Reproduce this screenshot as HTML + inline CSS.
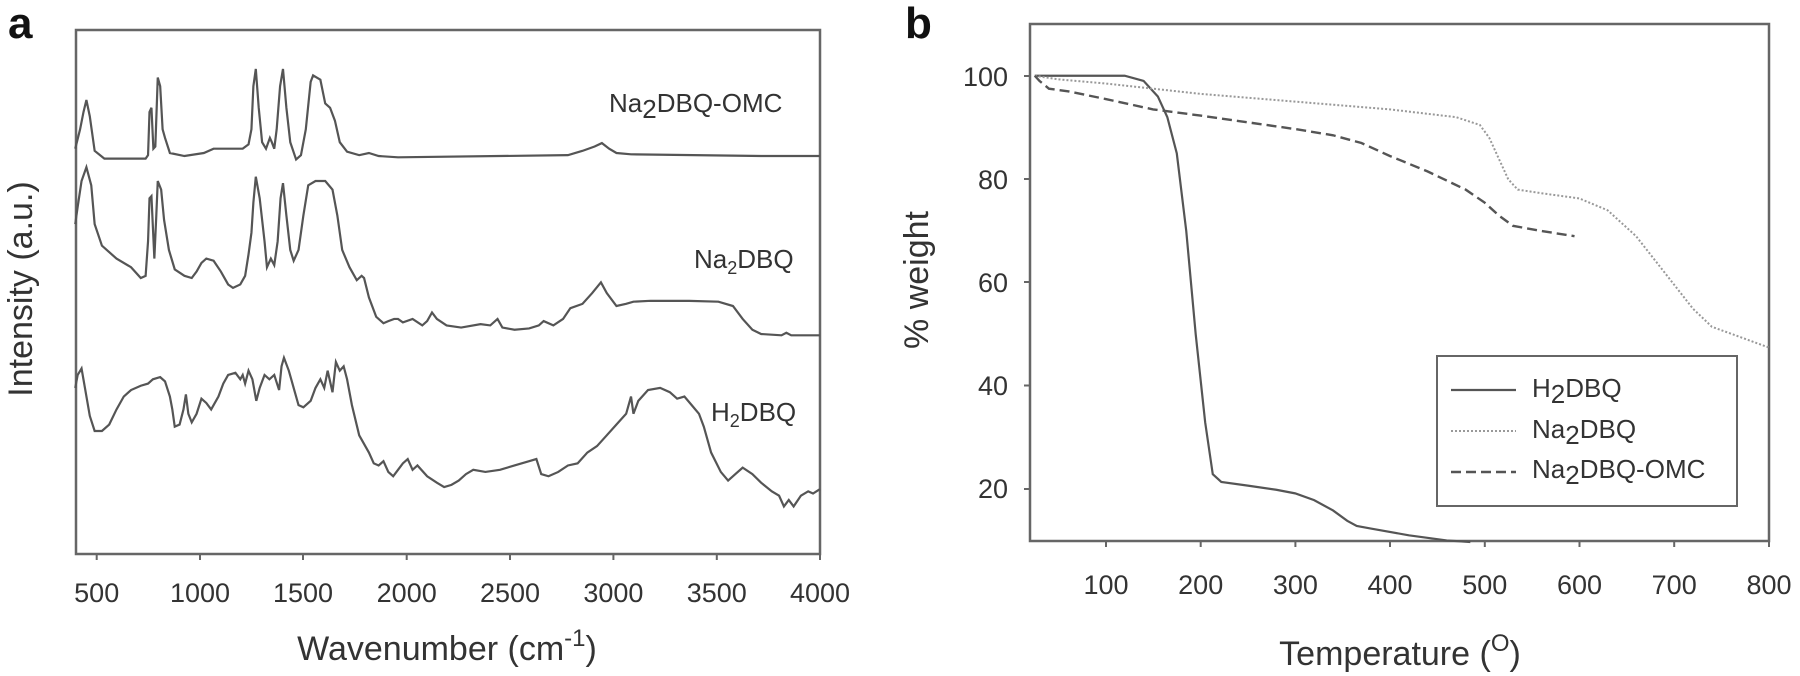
<!DOCTYPE html>
<html><head><meta charset="utf-8"><style>
html,body{margin:0;padding:0;background:#fff;}
svg{display:block;font-family:"Liberation Sans",sans-serif;}
</style></head><body>
<svg width="1800" height="676" viewBox="0 0 1800 676" xmlns="http://www.w3.org/2000/svg">
<!-- Panel a -->
<text x="8" y="38" font-size="44" font-weight="bold" fill="#111">a</text>
<rect x="76" y="30" width="744" height="524" fill="none" stroke="#666" stroke-width="2.5"/>
<g stroke="#666" stroke-width="2">
<line x1="96.7" y1="554" x2="96.7" y2="560"/><line x1="200" y1="554" x2="200" y2="560"/><line x1="303" y1="554" x2="303" y2="560"/><line x1="406.7" y1="554" x2="406.7" y2="560"/><line x1="510" y1="554" x2="510" y2="560"/><line x1="613.4" y1="554" x2="613.4" y2="560"/><line x1="716.8" y1="554" x2="716.8" y2="560"/><line x1="820" y1="554" x2="820" y2="560"/>
</g>
<g font-size="27" fill="#333" text-anchor="middle">
<text x="96.7" y="602">500</text><text x="200" y="602">1000</text><text x="303" y="602">1500</text><text x="406.7" y="602">2000</text><text x="510" y="602">2500</text><text x="613.4" y="602">3000</text><text x="716.8" y="602">3500</text><text x="820" y="602">4000</text>
</g>
<text x="447" y="660" font-size="34" fill="#333" text-anchor="middle">Wavenumber (cm<tspan dy="-14" font-size="24">-1</tspan><tspan dy="14">)</tspan></text>
<text transform="translate(32,289) rotate(-90)" font-size="34" fill="#333" text-anchor="middle">Intensity (a.u.)</text>
<g font-size="26" fill="#333">
<text x="609" y="112">Na<tspan dy="6" font-size="26">2</tspan><tspan dy="-6">DBQ-OMC</tspan></text>
<text x="694" y="268">Na<tspan dy="6" font-size="18">2</tspan><tspan dy="-6">DBQ</tspan></text>
<text x="711" y="421">H<tspan dy="6" font-size="18">2</tspan><tspan dy="-6">DBQ</tspan></text>
</g>
<g transform="matrix(0.4854 0 0 0.431 0 0)" fill="none" stroke="#555" stroke-width="2.2" vector-effect="non-scaling-stroke">
<polyline vector-effect="non-scaling-stroke" points="155,345 165,300 172,260 178,232 185,270 195,350 215,368 300,368 305,360 308,260 312,250 316,345 320,340 325,180 330,200 335,300 340,320 350,355 380,362 420,355 440,345 500,345 512,335 518,300 522,200 527,160 533,250 540,330 548,345 556,320 560,330 565,345 570,300 577,200 583,160 590,250 598,330 610,370 620,360 630,300 640,190 645,175 660,185 670,240 680,250 690,280 700,330 715,352 740,360 760,355 780,362 820,365 1170,360 1200,350 1225,340 1240,332 1255,345 1270,355 1300,358 1568,362 1689,362"/>
<polyline vector-effect="non-scaling-stroke" points="155,520 160,480 168,420 178,388 188,430 195,520 210,570 240,600 270,620 290,645 300,640 305,560 308,460 312,455 318,600 322,500 325,420 332,440 338,510 348,580 360,625 380,640 395,645 405,630 415,610 425,600 440,605 455,630 470,660 480,668 495,660 505,640 512,590 518,540 522,470 527,410 535,460 545,560 550,620 558,600 565,615 572,560 578,460 583,425 590,500 598,580 605,605 615,580 625,500 635,430 650,420 670,420 685,440 695,500 705,580 720,620 735,650 745,640 750,645 760,690 775,735 790,750 800,745 812,740 820,740 830,748 850,740 870,755 880,745 890,725 900,740 920,755 950,760 990,752 1010,755 1025,740 1035,760 1060,765 1090,762 1110,755 1120,745 1140,755 1160,740 1175,715 1200,705 1220,680 1238,655 1250,680 1270,710 1290,705 1305,700 1340,698 1420,698 1480,700 1510,710 1530,740 1550,765 1568,775 1610,778 1620,772 1630,778 1689,778"/>
<polyline vector-effect="non-scaling-stroke" points="155,900 160,870 168,855 175,900 185,965 195,1000 210,1000 225,985 240,950 255,920 270,905 290,895 305,890 315,880 330,875 340,885 350,920 355,950 360,990 370,985 378,950 383,915 388,960 395,980 405,960 415,925 425,935 435,950 450,920 460,890 470,870 485,865 495,880 500,870 505,890 512,860 520,880 528,930 535,900 545,870 555,880 565,870 575,905 580,850 585,830 595,860 605,900 615,940 625,945 640,930 650,900 660,880 668,900 675,860 685,910 692,840 700,860 708,850 715,880 725,940 740,1010 760,1050 770,1075 780,1080 790,1070 800,1095 810,1105 820,1090 830,1075 840,1065 850,1090 860,1080 880,1105 900,1120 915,1130 930,1125 945,1115 960,1100 975,1090 1000,1095 1030,1090 1060,1080 1090,1070 1105,1065 1115,1100 1130,1105 1150,1095 1170,1080 1190,1075 1210,1050 1230,1035 1250,1010 1270,985 1290,960 1300,920 1305,960 1315,930 1335,905 1360,900 1380,910 1395,925 1410,920 1425,940 1440,960 1450,990 1465,1050 1485,1095 1500,1115 1515,1100 1530,1085 1550,1100 1568,1120 1590,1140 1605,1150 1615,1175 1625,1160 1635,1175 1650,1150 1665,1140 1675,1145 1689,1135"/>
</g>

<!-- Panel b -->
<text x="905" y="38" font-size="44" font-weight="bold" fill="#111">b</text>
<rect x="1030" y="24" width="739" height="517" fill="none" stroke="#666" stroke-width="2.5"/>
<g stroke="#666" stroke-width="2">
<line x1="1106" y1="541" x2="1106" y2="547"/><line x1="1200.7" y1="541" x2="1200.7" y2="547"/><line x1="1295.4" y1="541" x2="1295.4" y2="547"/><line x1="1390" y1="541" x2="1390" y2="547"/><line x1="1484.8" y1="541" x2="1484.8" y2="547"/><line x1="1579.5" y1="541" x2="1579.5" y2="547"/><line x1="1674.2" y1="541" x2="1674.2" y2="547"/><line x1="1769" y1="541" x2="1769" y2="547"/>
<line x1="1024" y1="76" x2="1030" y2="76"/><line x1="1024" y1="179" x2="1030" y2="179"/><line x1="1024" y1="282" x2="1030" y2="282"/><line x1="1024" y1="385.5" x2="1030" y2="385.5"/><line x1="1024" y1="489" x2="1030" y2="489"/>
</g>
<g font-size="27" fill="#333" text-anchor="middle">
<text x="1106" y="594">100</text><text x="1200.7" y="594">200</text><text x="1295.4" y="594">300</text><text x="1390" y="594">400</text><text x="1484.8" y="594">500</text><text x="1579.5" y="594">600</text><text x="1674.2" y="594">700</text><text x="1769" y="594">800</text>
</g>
<g font-size="27" fill="#333" text-anchor="end">
<text x="1008" y="86">100</text><text x="1008" y="189">80</text><text x="1008" y="292">60</text><text x="1008" y="395">40</text><text x="1008" y="498">20</text>
</g>
<text x="1400" y="665" font-size="34" fill="#333" text-anchor="middle">Temperature (<tspan dy="-14" font-size="24">O</tspan><tspan dy="14">)</tspan></text>
<text transform="translate(928,280) rotate(-90)" font-size="34" fill="#333" text-anchor="middle">% weight</text>

<g transform="matrix(0.947 0 0 -5.175 1011.06 593.25)" fill="none" stroke="#555">
<polyline vector-effect="non-scaling-stroke" stroke-width="2.2" points="25,100 60,100 120,100 140,99 155,96 165,92 175,85 185,70 195,50 205,33 213,23 222,21.5 250,20.8 280,20 300,19.3 320,18 340,16 355,14 365,13 380,12.5 420,11.2 460,10.2 485,9.9"/>
<polyline vector-effect="non-scaling-stroke" stroke="#999" stroke-width="2" stroke-dasharray="2 2" points="25,100 50,99.3 100,98.5 200,96.5 300,95 400,93.5 470,92 495,90.5 505,88 515,84 525,80 535,78 560,77.3 600,76.3 630,74 660,69 690,62 720,55 740,51.5 770,49.5 800,47.5"/>
<polyline vector-effect="non-scaling-stroke" stroke-width="2.4" stroke-dasharray="10 5" points="25,100 30,99 40,97.5 60,97 100,95.5 150,93.5 200,92.3 250,91 300,89.7 340,88.5 370,87 400,84.5 440,81.5 480,78 500,75.5 515,73 530,71 560,70 595,69"/>
</g>

<rect x="1437" y="356" width="300" height="150" fill="#fff" stroke="#666" stroke-width="2"/>
<line x1="1451" y1="390" x2="1516" y2="390" stroke="#555" stroke-width="2.2"/>
<line x1="1451" y1="431" x2="1516" y2="431" stroke="#999" stroke-width="2" stroke-dasharray="2 2"/>
<line x1="1451" y1="472" x2="1516" y2="472" stroke="#555" stroke-width="2.4" stroke-dasharray="10 5"/>
<g font-size="26" fill="#333">
<text x="1532" y="397">H<tspan dy="6">2</tspan><tspan dy="-6">DBQ</tspan></text>
<text x="1532" y="438">Na<tspan dy="6">2</tspan><tspan dy="-6">DBQ</tspan></text>
<text x="1532" y="478">Na<tspan dy="6">2</tspan><tspan dy="-6">DBQ-OMC</tspan></text>
</g>
</svg>
</body></html>
